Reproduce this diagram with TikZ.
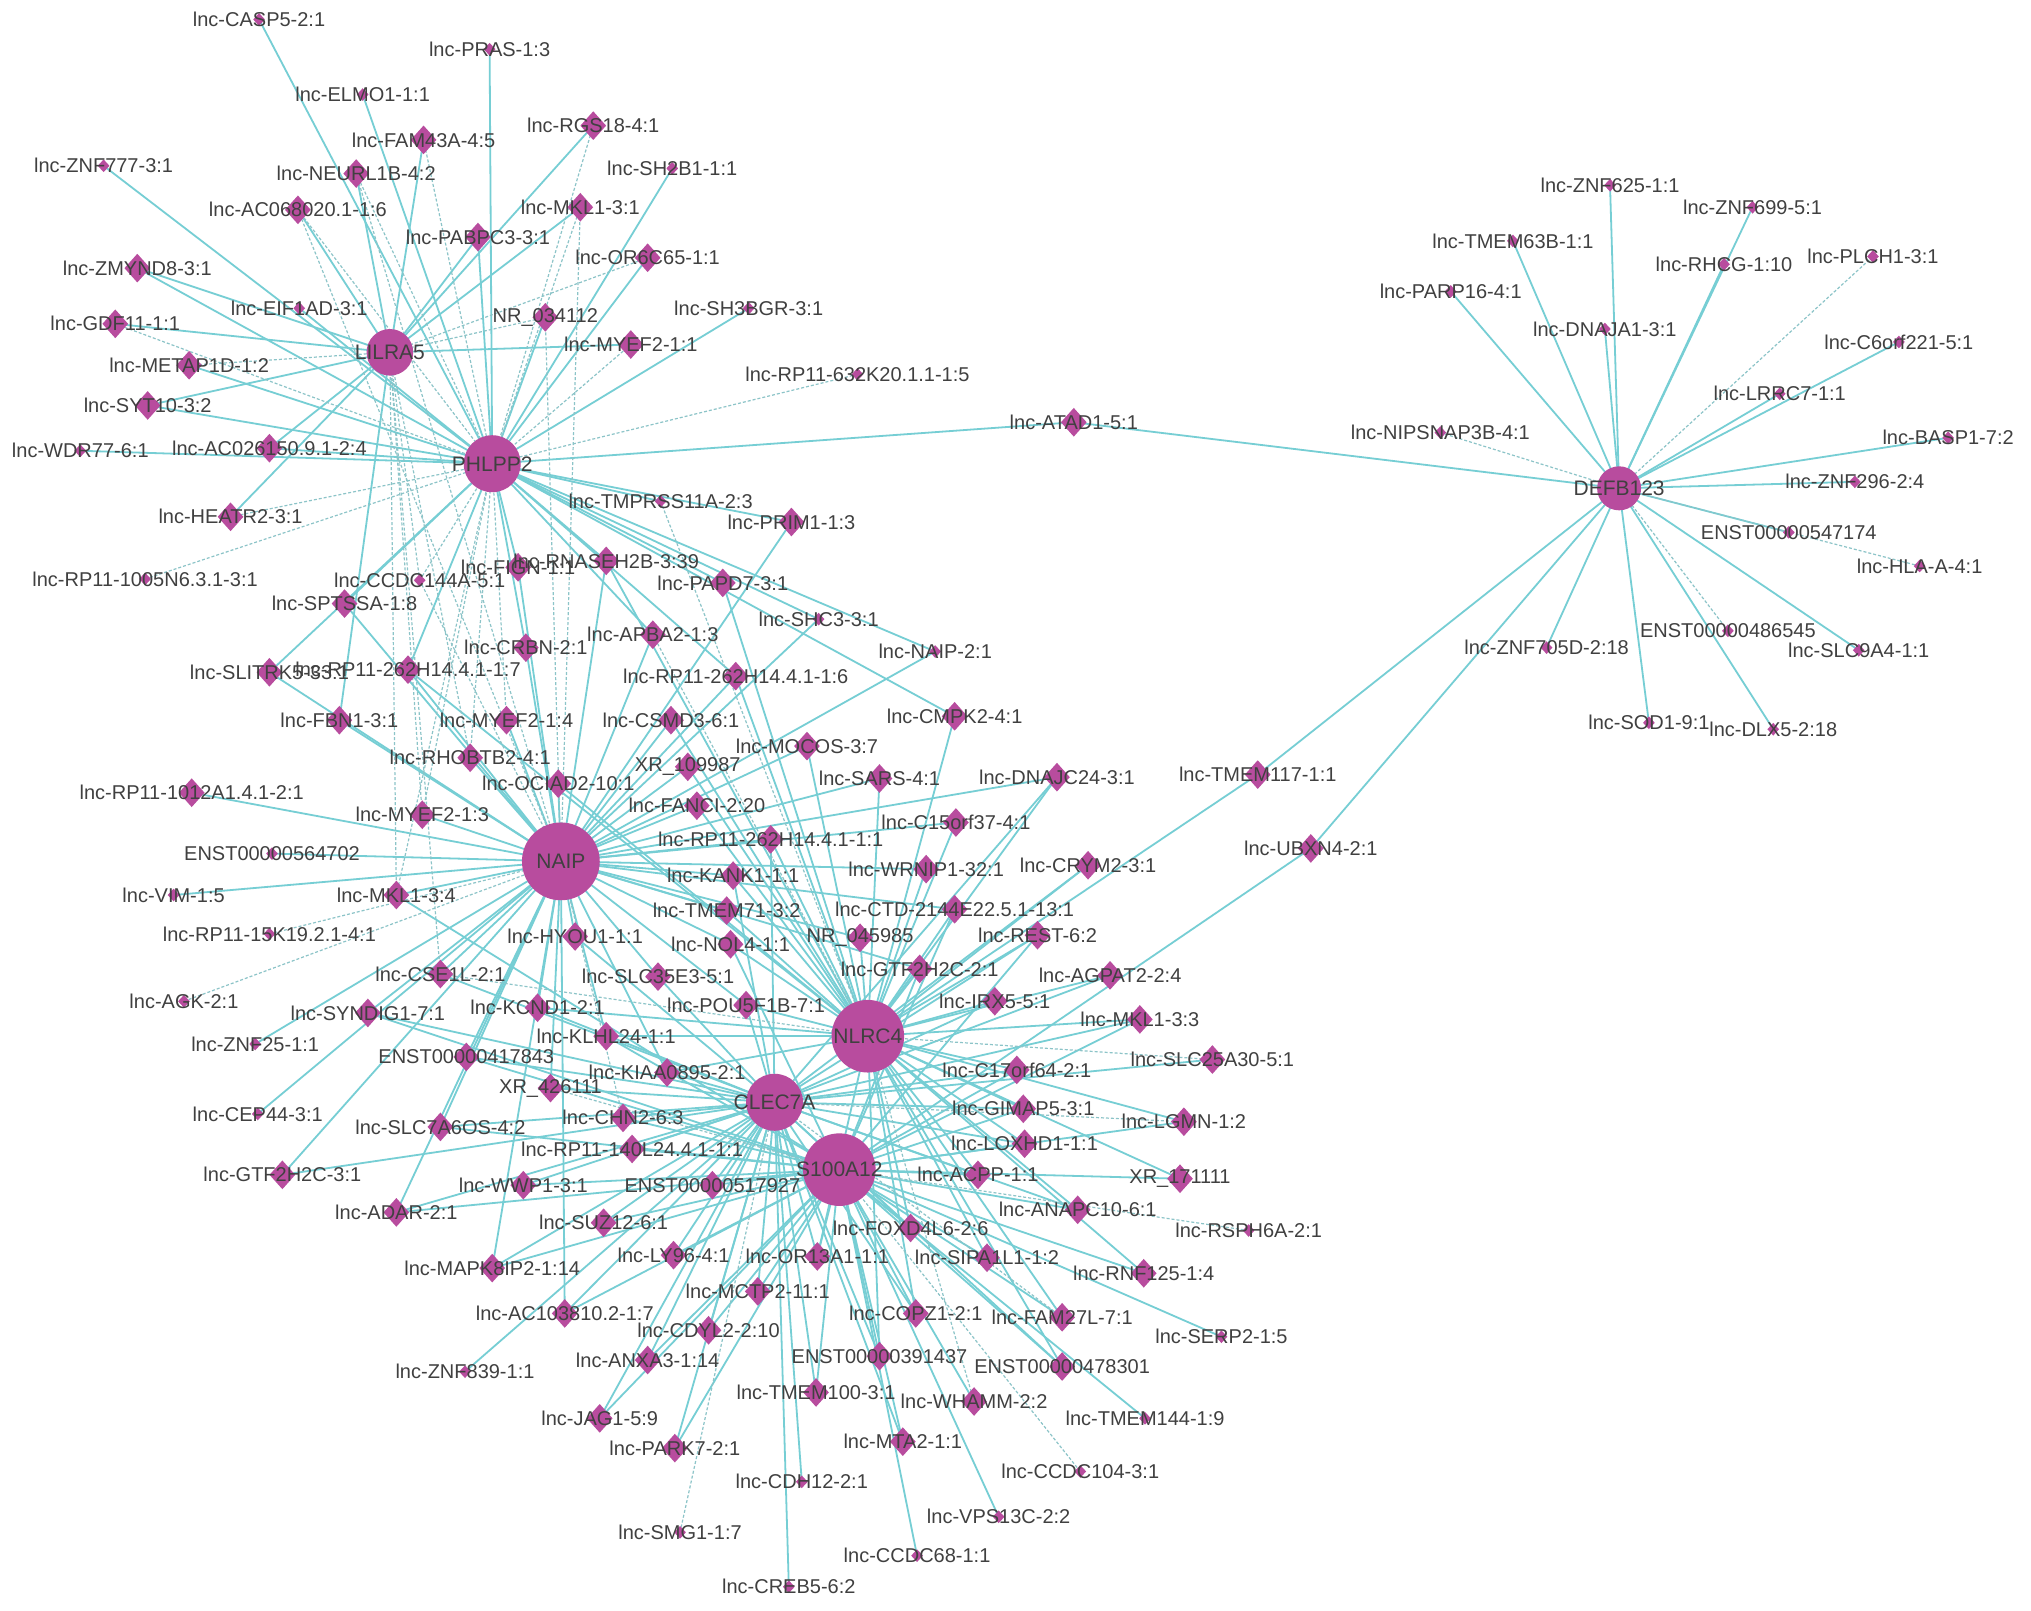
\documentclass[tikz,border=0pt]{standalone}
\usepackage{fontspec}
\setmainfont{Liberation Sans}
\usetikzlibrary{shapes.geometric}
\definecolor{edgec}{RGB}{118,206,212}
\definecolor{dedgec}{RGB}{140,196,200}
\definecolor{nodec}{RGB}{184,76,158}
\definecolor{txtc}{RGB}{64,64,64}
\pgfdeclarelayer{back}\pgfdeclarelayer{bg}\pgfdeclarelayer{fg}\pgfsetlayers{back,bg,main,fg}
\tikzset{
  bd/.style={diamond, fill=nodec, inner sep=0pt, minimum width=13pt, minimum height=14.5pt},
  sd/.style={diamond, fill=nodec, inner sep=0pt, minimum width=6pt, minimum height=6.5pt},
  hub/.style={circle, fill=nodec, inner sep=0pt},
  lab/.style={text=txtc, font=\fontsize{10}{10}\selectfont, inner sep=0pt},
  hlab/.style={text=txtc, font=\fontsize{10.5}{10.5}\selectfont, inner sep=0pt},
  se/.style={draw=edgec, line width=0.9pt},
  de/.style={draw=dedgec, line width=0.6pt, dash pattern=on 1.5pt off 1pt},
}
\newcommand{\gn}[5]{\node[#4] (#1) at (#2,#3) {};\begin{pgfonlayer}{fg}\node[lab] (#1l) at (#2,#3) {#5};\end{pgfonlayer}}
\newcommand{\hb}[5]{\node[hub, minimum size=#4] (#1) at (#2,#3) {};\begin{pgfonlayer}{fg}\node[hlab] (#1l) at (#2,#3) {#5};\end{pgfonlayer}}
\begin{document}
\begin{tikzpicture}[x=0.6477pt, y=-0.6477pt]
\begin{pgfonlayer}{back}
\fill[white] (0,0) rectangle (1568,1243);
\end{pgfonlayer}
\useasboundingbox (0,0) rectangle (1568,1243);
% hubs
\hb{LIL}{301}{272}{23.3pt}{LILRA5}
\hb{PHL}{380}{358}{28.5pt}{PHLPP2}
\hb{NAI}{433}{665}{38.9pt}{NAIP}
\hb{NLR}{670}{800}{36.3pt}{NLRC4}
\hb{CLE}{598}{851}{28.5pt}{CLEC7A}
\hb{S10}{648}{903}{36.3pt}{S100A12}
\hb{DEF}{1250}{377}{22pt}{DEFB123}
% top-left
\gn{casp}{200}{15}{sd}{lnc-CASP5-2:1}
\gn{pras}{378}{38}{sd}{lnc-PRAS-1:3}
\gn{elmo}{280}{73}{sd}{lnc-ELMO1-1:1}
\gn{fam43}{327}{108}{bd}{lnc-FAM43A-4:5}
\gn{rgs}{458}{97}{bd}{lnc-RGS18-4:1}
\gn{znf777}{80}{128}{sd}{lnc-ZNF777-3:1}
\gn{neurl}{275}{134}{bd}{lnc-NEURL1B-4:2}
\gn{sh2b1}{519}{130}{sd}{lnc-SH2B1-1:1}
\gn{ac068}{230}{162}{bd}{lnc-AC068020.1-1:6}
\gn{mkla}{448}{160}{bd}{lnc-MKL1-3:1}
\gn{pabpc}{369}{183}{bd}{lnc-PABPC3-3:1}
\gn{or6c}{500}{199}{bd}{lnc-OR6C65-1:1}
\gn{zmynd}{106}{207}{bd}{lnc-ZMYND8-3:1}
\gn{eif}{231}{238}{sd}{lnc-EIF1AD-3:1}
\gn{nr034}{421}{245}{bd}{NR\_034112}
\gn{sh3}{578}{238}{sd}{lnc-SH3BGR-3:1}
\gn{gdf}{89}{250}{bd}{lnc-GDF11-1:1}
\gn{myefa}{487}{266}{bd}{lnc-MYEF2-1:1}
\gn{metap}{146}{282}{bd}{lnc-METAP1D-1:2}
\gn{rp632}{662}{289}{sd}{lnc-RP11-632K20.1.1-1:5}
\gn{syt}{114}{313}{bd}{lnc-SYT10-3:2}
\gn{wdr}{62}{348}{sd}{lnc-WDR77-6:1}
\gn{ac026}{208}{346}{bd}{lnc-AC026150.9.1-2:4}
\gn{atad}{829}{326}{bd}{lnc-ATAD1-5:1}
\gn{heatr}{178}{399}{bd}{lnc-HEATR2-3:1}
\gn{tmprss}{510}{387}{sd}{lnc-TMPRSS11A-2:3}
\gn{prim}{611}{403}{bd}{lnc-PRIM1-1:3}
\gn{rp1005}{112}{447}{sd}{lnc-RP11-1005N6.3.1-3:1}
\gn{ccdc144}{324}{448}{sd}{lnc-CCDC144A-5:1}
\gn{fi}{400}{438}{bd}{lnc-FIGN-1:1}
\gn{rnase}{468}{433}{bd}{lnc-RNASEH2B-3:39}
\gn{papd}{558}{450}{bd}{lnc-PAPD7-3:1}
\gn{sptssa}{266}{466}{bd}{lnc-SPTSSA-1:8}
\gn{shc3}{632}{478}{sd}{lnc-SHC3-3:1}
\gn{apba}{504}{490}{bd}{lnc-APBA2-1:3}
\gn{crbn}{406}{500}{bd}{lnc-CRBN-2:1}
\gn{naipb}{722}{503}{sd}{lnc-NAIP-2:1}
\gn{slitrk}{208}{519}{bd}{lnc-SLITRK5-33:1}
\gn{rp17}{315}{517}{bd}{lnc-RP11-262H14.4.1-1:7}
\gn{rp16}{568}{522}{bd}{lnc-RP11-262H14.4.1-1:6}
\gn{fbn}{262}{556}{bd}{lnc-FBN1-3:1}
\gn{myefb}{391}{556}{bd}{lnc-MYEF2-1:4}
\gn{csmd}{518}{556}{bd}{lnc-CSMD3-6:1}
\gn{cmpk}{737}{553}{bd}{lnc-CMPK2-4:1}
\gn{rhob}{363}{585}{bd}{lnc-RHOBTB2-4:1}
\gn{xr109}{531}{592}{bd}{XR\_109987}
\gn{mocos}{623}{576}{bd}{lnc-MOCOS-3:7}
\gn{ociad}{431}{605}{bd}{lnc-OCIAD2-10:1}
\gn{sars}{679}{601}{bd}{lnc-SARS-4:1}
\gn{dnajc}{816}{600}{bd}{lnc-DNAJC24-3:1}
\gn{rp1012}{148}{612}{bd}{lnc-RP11-1012A1.4.1-2:1}
\gn{myefc}{326}{629}{bd}{lnc-MYEF2-1:3}
\gn{fanci}{538}{622}{bd}{lnc-FANCI-2:20}
\gn{cfifteen}{738}{635}{bd}{lnc-C15orf37-4:1}
\gn{rp11}{595}{648}{bd}{lnc-RP11-262H14.4.1-1:1}
\gn{efivesix}{210}{659}{sd}{ENST00000564702}
\gn{wrnip}{715}{671}{bd}{lnc-WRNIP1-32:1}
\gn{crym}{840}{668}{bd}{lnc-CRYM2-3:1}
\gn{kank}{566}{676}{bd}{lnc-KANK1-1:1}
\gn{mklc}{306}{691}{bd}{lnc-MKL1-3:4}
\gn{vim}{134}{691}{sd}{lnc-VIM-1:5}
\gn{ctd}{737}{702}{bd}{lnc-CTD-2144E22.5.1-13:1}
\gn{tmemsev}{561}{703}{bd}{lnc-TMEM71-3:2}
\gn{rp15}{208}{721}{sd}{lnc-RP11-15K19.2.1-4:1}
\gn{hyou}{444}{723}{bd}{lnc-HYOU1-1:1}
\gn{nr045}{664}{724}{bd}{NR\_045985}
\gn{nol}{564}{729}{bd}{lnc-NOL4-1:1}
\gn{rest}{801}{722}{bd}{lnc-REST-6:2}
\gn{cse}{340}{752}{bd}{lnc-CSE1L-2:1}
\gn{slcte}{508}{754}{bd}{lnc-SLC35E3-5:1}
\gn{gtfa}{710}{748}{bd}{lnc-GTF2H2C-2:1}
\gn{agpat}{857}{753}{bd}{lnc-AGPAT2-2:4}
\gn{agk}{142}{773}{sd}{lnc-AGK-2:1}
\gn{syndig}{284}{782}{bd}{lnc-SYNDIG1-7:1}
\gn{kcnd}{415}{778}{bd}{lnc-KCND1-2:1}
\gn{pou}{576}{776}{bd}{lnc-POU5F1B-7:1}
\gn{irx}{768}{773}{bd}{lnc-IRX5-5:1}
\gn{mklb}{880}{787}{bd}{lnc-MKL1-3:3}
\gn{znftf}{197}{806}{sd}{lnc-ZNF25-1:1}
\gn{efour}{360}{816}{bd}{ENST00000417843}
\gn{klhl}{468}{800}{bd}{lnc-KLHL24-1:1}
\gn{slctf}{936}{818}{bd}{lnc-SLC25A30-5:1}
\gn{kiaa}{515}{828}{bd}{lnc-KIAA0895-2:1}
\gn{cseventeen}{785}{826}{bd}{lnc-C17orf64-2:1}
\gn{xrfour}{425}{840}{bd}{XR\_426111}
\gn{cep}{199}{860}{sd}{lnc-CEP44-3:1}
\gn{gimap}{790}{856}{bd}{lnc-GIMAP5-3:1}
\gn{slcseven}{340}{870}{bd}{lnc-SLC7A6OS-4:2}
\gn{chn}{481}{863}{bd}{lnc-CHN2-6:3}
\gn{lgmn}{914}{866}{bd}{lnc-LGMN-1:2}
\gn{rpfourty}{488}{887}{bd}{lnc-RP11-140L24.4.1-1:1}
\gn{loxhd}{791}{883}{bd}{lnc-LOXHD1-1:1}
\gn{gtfb}{218}{907}{bd}{lnc-GTF2H2C-3:1}
\gn{wwp}{404}{915}{bd}{lnc-WWP1-3:1}
\gn{efive}{550}{915}{bd}{ENST00000517927}
\gn{acpp}{755}{907}{bd}{lnc-ACPP-1:1}
\gn{xrone}{911}{910}{bd}{XR\_171111}
\gn{adar}{306}{936}{bd}{lnc-ADAR-2:1}
\gn{anapc}{832}{934}{bd}{lnc-ANAPC10-6:1}
\gn{suz}{466}{944}{bd}{lnc-SUZ12-6:1}
\gn{foxd}{703}{948}{bd}{lnc-FOXD4L6-2:6}
\gn{rsph}{964}{950}{sd}{lnc-RSPH6A-2:1}
\gn{mapk}{380}{979}{bd}{lnc-MAPK8IP2-1:14}
\gn{ly}{520}{969}{bd}{lnc-LY96-4:1}
\gn{orthirt}{631}{970}{bd}{lnc-OR13A1-1:1}
\gn{sipa}{762}{971}{bd}{lnc-SIPA1L1-1:2}
\gn{rnf}{883}{983}{bd}{lnc-RNF125-1:4}
\gn{mctp}{585}{997}{bd}{lnc-MCTP2-11:1}
\gn{acone}{436}{1014}{bd}{lnc-AC103810.2-1:7}
\gn{copz}{707}{1014}{bd}{lnc-COPZ1-2:1}
\gn{fam}{820}{1017}{bd}{lnc-FAM27L-7:1}
\gn{serp}{943}{1032}{sd}{lnc-SERP2-1:5}
\gn{cdyl}{547}{1027}{bd}{lnc-CDYL2-2:10}
\gn{znfeight}{359}{1059}{sd}{lnc-ZNF839-1:1}
\gn{anxa}{500}{1050}{bd}{lnc-ANXA3-1:14}
\gn{ethree}{679}{1047}{bd}{ENST00000391437}
\gn{efoursev}{820}{1055}{bd}{ENST00000478301}
\gn{tmemhun}{630}{1075}{bd}{lnc-TMEM100-3:1}
\gn{whamm}{752}{1082}{bd}{lnc-WHAMM-2:2}
\gn{jag}{463}{1095}{bd}{lnc-JAG1-5:9}
\gn{tmemfour}{884}{1095}{sd}{lnc-TMEM144-1:9}
\gn{park}{521}{1118}{bd}{lnc-PARK7-2:1}
\gn{mta}{697}{1113}{bd}{lnc-MTA2-1:1}
\gn{ccdcone}{834}{1136}{sd}{lnc-CCDC104-3:1}
\gn{cdh}{619}{1144}{sd}{lnc-CDH12-2:1}
\gn{vps}{771}{1171}{sd}{lnc-VPS13C-2:2}
\gn{smg}{525}{1183}{sd}{lnc-SMG1-1:7}
\gn{ccdcsix}{708}{1201}{sd}{lnc-CCDC68-1:1}
\gn{creb}{609}{1225}{sd}{lnc-CREB5-6:2}
\gn{tmemone}{971}{598}{bd}{lnc-TMEM117-1:1}
\gn{ubxn}{1012}{655}{bd}{lnc-UBXN4-2:1}
% right cluster
\gn{znfsix}{1243}{143}{sd}{lnc-ZNF625-1:1}
\gn{znfnine}{1353}{160}{sd}{lnc-ZNF699-5:1}
\gn{tmemsix}{1168}{186}{sd}{lnc-TMEM63B-1:1}
\gn{parp}{1120}{225}{sd}{lnc-PARP16-4:1}
\gn{rhcg}{1331}{204}{sd}{lnc-RHCG-1:10}
\gn{plch}{1446}{198}{sd}{lnc-PLCH1-3:1}
\gn{dnaja}{1239}{254}{sd}{lnc-DNAJA1-3:1}
\gn{csix}{1466}{264}{sd}{lnc-C6orf221-5:1}
\gn{lrrc}{1374}{304}{sd}{lnc-LRRC7-1:1}
\gn{nips}{1112}{334}{sd}{lnc-NIPSNAP3B-4:1}
\gn{basp}{1504}{338}{sd}{lnc-BASP1-7:2}
\gn{znftwo}{1432}{372}{sd}{lnc-ZNF296-2:4}
\gn{efivefour}{1381}{411}{sd}{ENST00000547174}
\gn{hla}{1482}{437}{sd}{lnc-HLA-A-4:1}
\gn{efoureight}{1334}{487}{sd}{ENST00000486545}
\gn{znfseven}{1194}{500}{sd}{lnc-ZNF705D-2:18}
\gn{slcnine}{1435}{502}{sd}{lnc-SLC9A4-1:1}
\gn{sod}{1273}{558}{sd}{lnc-SOD1-9:1}
\gn{dlx}{1369}{563}{sd}{lnc-DLX5-2:18}
% edges
\begin{pgfonlayer}{bg}
\foreach \a/\b in {casp/PHL, pras/PHL, elmo/PHL, fam43/LIL, rgs/LIL, znf777/PHL, neurl/LIL, sh2b1/PHL, ac068/LIL, mkla/LIL, pabpc/LIL, pabpc/PHL, or6c/PHL, zmynd/LIL, zmynd/PHL, eif/PHL, nr034/PHL, sh3/PHL, gdf/LIL, myefa/LIL, metap/PHL, syt/LIL, syt/PHL, wdr/PHL, ac026/LIL, ac026/PHL, atad/PHL, atad/DEF, heatr/LIL, tmprss/PHL, prim/PHL, prim/NAI, fi/PHL, fi/NAI, rnase/PHL, rnase/NAI, rnase/NLR, papd/PHL, papd/NLR, sptssa/PHL, sptssa/NAI, shc3/PHL, shc3/NAI, apba/PHL, apba/NAI, crbn/PHL, crbn/NAI, naipb/PHL, naipb/NAI, slitrk/PHL, slitrk/NAI, rp17/PHL, rp17/NAI, rp17/NLR, rp16/PHL, rp16/NLR, rp16/NAI, fbn/LIL, fbn/NAI, myefb/NAI, csmd/NAI, csmd/NLR, cmpk/PHL, cmpk/NLR, rhob/NAI, xr109/NAI, xr109/NLR, mocos/NAI, mocos/NLR, ociad/NAI, ociad/NLR, sars/NAI, sars/NLR, dnajc/NAI, dnajc/NLR, dnajc/CLE, rp1012/NAI, myefc/NAI, fanci/NAI, fanci/NLR, cfifteen/NAI, cfifteen/NLR, rp11/NAI, rp11/NLR, rp11/CLE, efivesix/NAI, wrnip/NAI, wrnip/NLR, crym/NLR, crym/CLE, kank/NAI, kank/NLR, kank/CLE, mklc/NAI, mklc/S10, vim/NAI, ctd/NAI, ctd/NLR, ctd/S10, tmemsev/NAI, tmemsev/NLR, hyou/NAI, hyou/CLE, nr045/NAI, nr045/NLR, nol/NAI, nol/NLR, nol/S10, rest/NLR, rest/CLE, rest/S10, cse/NAI, cse/CLE, slcte/NAI, slcte/CLE, gtfa/NLR, gtfa/NAI, gtfa/S10, agpat/NLR, agpat/CLE, syndig/NAI, syndig/CLE, syndig/S10, kcnd/NAI, kcnd/CLE, kcnd/NLR, pou/NAI, pou/NLR, pou/CLE, irx/NLR, irx/CLE, mklb/NLR, mklb/CLE, mklb/S10, znftf/NAI, efour/NAI, efour/CLE, efour/S10, klhl/NAI, klhl/NLR, klhl/S10, slctf/CLE, kiaa/CLE, kiaa/NLR, kiaa/NAI, cseventeen/NLR, cseventeen/CLE, cseventeen/S10, xrfour/NAI, xrfour/CLE, cep/NAI, gimap/NLR, gimap/S10, gimap/CLE, slcseven/NAI, slcseven/CLE, slcseven/S10, chn/CLE, chn/S10, lgmn/NLR, lgmn/S10, rpfourty/CLE, rpfourty/S10, loxhd/NLR, loxhd/S10, loxhd/CLE, gtfb/NAI, gtfb/CLE, wwp/CLE, wwp/S10, efive/CLE, efive/S10, acpp/NLR, acpp/S10, acpp/CLE, xrone/NLR, xrone/S10, adar/NAI, adar/CLE, adar/S10, anapc/NLR, anapc/S10, anapc/CLE, suz/CLE, suz/S10, foxd/S10, foxd/NLR, foxd/CLE, mapk/NAI, mapk/CLE, mapk/S10, ly/CLE, ly/S10, orthirt/S10, orthirt/CLE, orthirt/NLR, sipa/S10, sipa/NLR, rnf/NLR, rnf/S10, mctp/CLE, mctp/S10, acone/CLE, acone/S10, acone/NAI, copz/S10, copz/CLE, copz/NLR, fam/S10, fam/NLR, serp/S10, cdyl/CLE, cdyl/S10, znfeight/CLE, anxa/CLE, anxa/S10, ethree/S10, ethree/CLE, ethree/NLR, efoursev/S10, efoursev/NLR, efoursev/CLE, tmemhun/S10, tmemhun/CLE, whamm/S10, jag/CLE, jag/S10, tmemfour/S10, park/CLE, park/S10, mta/S10, mta/CLE, cdh/CLE, vps/S10, ccdcsix/S10, creb/CLE, tmemone/NLR, tmemone/DEF, ubxn/S10, ubxn/DEF, znfsix/DEF, znfnine/DEF, tmemsix/DEF, parp/DEF, rhcg/DEF, dnaja/DEF, csix/DEF, lrrc/DEF, basp/DEF, znftwo/DEF, efivefour/DEF, znfseven/DEF, slcnine/DEF, sod/DEF, dlx/DEF}
  \draw[se] (\a.center) -- (\b.center);
\foreach \a/\b in {fam43/PHL, rgs/PHL, neurl/PHL, ac068/PHL, mkla/PHL, mkla/NAI, or6c/LIL, nr034/LIL, nr034/NAI, gdf/PHL, myefa/PHL, metap/LIL, rp632/PHL, heatr/PHL, tmprss/NLR, rp1005/PHL, ccdc144/PHL, ccdc144/NAI, ccdc144/LIL, apba/NLR, myefb/PHL, rhob/PHL, rhob/LIL, myefc/LIL, myefc/PHL, mklc/PHL, mklc/LIL, rp15/NAI, cse/NLR, cse/LIL, agk/NAI, slctf/NLR, xrfour/S10, chn/NAI, lgmn/CLE, rsph/S10, fam/CLE, whamm/NLR, ccdcone/S10, smg/CLE, plch/DEF, nips/DEF, hla/DEF, efoureight/DEF, neurl/NAI, ac068/NAI}
  \draw[de] (\a.center) -- (\b.center);
\end{pgfonlayer}
\end{tikzpicture}
\end{document}
